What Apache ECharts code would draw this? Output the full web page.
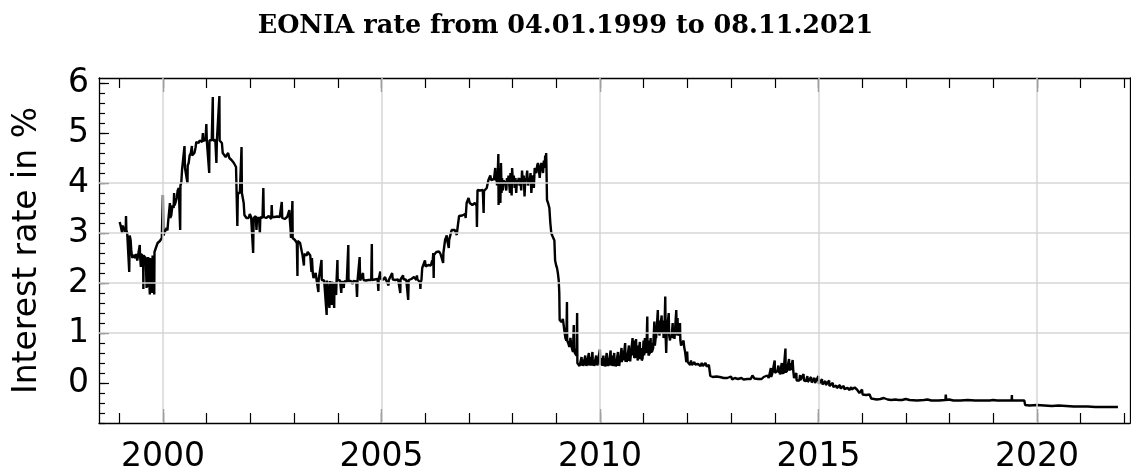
<!DOCTYPE html>
<html>
<head>
<meta charset="utf-8">
<title>EONIA rate</title>
<script src="https://cdn.jsdelivr.net/npm/echarts@6/dist/echarts.min.js"></script>
<style>
  html, body { margin: 0; padding: 0; background: #fff; }
  #chart { width: 1131px; height: 469px; }
</style>
</head>
<body>
<div id="chart"></div>
<script>
// EONIA overnight rate, % per day (sampled, with the notable spikes kept)
const eonia1999to2001 = [
  ['1999-01-04',3.22],['1999-01-11',3.16],['1999-01-18',3.2],['1999-01-25',3.0],['1999-01-27',3.15],
  ['1999-02-05',3.12],['1999-02-12',3.08],['1999-02-19',3.02],['1999-02-24',3.1],['1999-02-26',3.34],
  ['1999-03-01',3.05],['1999-03-08',3.0],['1999-03-16',2.98],['1999-03-23',2.96],['1999-03-25',2.22],
  ['1999-03-29',2.95],['1999-04-06',2.85],['1999-04-12',2.62],['1999-04-20',2.5],['1999-04-28',2.56],
  ['1999-05-07',2.55],['1999-05-14',2.5],['1999-05-21',2.58],['1999-05-31',2.45],['1999-06-08',2.57],
  ['1999-06-16',2.55],['1999-06-21',2.76],['1999-06-23',2.56],['1999-06-30',2.32],['1999-07-02',2.58],
  ['1999-07-12',2.56],['1999-07-19',2.54],['1999-07-21',1.88],['1999-07-23',2.55],['1999-08-02',2.52],
  ['1999-08-10',2.5],['1999-08-17',1.9],['1999-08-19',2.5],['1999-08-27',1.92],['1999-08-30',2.52],
  ['1999-09-07',2.48],['1999-09-13',1.77],['1999-09-15',2.5],['1999-09-23',2.52],['1999-10-04',1.8],
  ['1999-10-06',2.55],['1999-10-14',2.58],['1999-10-20',1.77],['1999-10-22',2.62],['1999-11-01',2.66],
  ['1999-11-08',2.74],['1999-11-17',2.8],['1999-11-26',2.78],['1999-12-06',2.84],['1999-12-14',2.86],
  ['1999-12-22',2.9],['1999-12-31',3.76],
  ['2000-01-04',2.95],['2000-01-12',3.0],['2000-01-20',3.02],['2000-01-31',3.1],['2000-02-07',3.05],
  ['2000-02-14',3.25],['2000-02-22',3.28],['2000-02-28',3.6],['2000-03-01',3.3],['2000-03-10',3.35],
  ['2000-03-20',3.55],['2000-03-30',3.5],['2000-04-03',3.8],['2000-04-05',3.55],['2000-04-14',3.6],
  ['2000-04-25',3.7],['2000-05-03',3.85],['2000-05-12',3.9],['2000-05-19',3.86],['2000-05-24',3.06],
  ['2000-05-26',3.95],['2000-06-02',4.0],['2000-06-09',4.28],['2000-06-16',4.3],['2000-06-23',4.25],
  ['2000-06-29',4.74],['2000-07-03',4.3],['2000-07-12',4.32],['2000-07-19',4.28],['2000-07-24',4.0],
  ['2000-07-26',4.35],['2000-08-03',4.4],['2000-08-11',4.55],['2000-08-21',4.6],['2000-08-30',4.74],
  ['2000-09-01',4.55],['2000-09-11',4.58],['2000-09-20',4.6],['2000-09-29',4.7],['2000-10-06',4.82],
  ['2000-10-16',4.84],['2000-10-25',4.8],['2000-11-03',4.85],['2000-11-14',4.84],['2000-11-24',4.82],
  ['2000-11-30',5.0],['2000-12-04',4.84],['2000-12-13',4.85],['2000-12-22',4.86],['2000-12-29',5.18],
  ['2001-01-02',4.84],['2001-01-12',4.82],['2001-01-22',4.2],['2001-01-24',4.85],['2001-02-02',4.88],
  ['2001-02-12',4.86],['2001-02-21',5.72],['2001-02-23',4.85],['2001-03-05',4.84],['2001-03-14',4.86],
  ['2001-03-23',4.4],['2001-03-27',4.85],['2001-04-04',4.84],['2001-04-11',4.88],['2001-04-17',5.74],
  ['2001-04-19',4.85],['2001-04-27',4.82],['2001-05-08',4.8],['2001-05-15',4.6],['2001-05-23',4.56],
  ['2001-05-31',4.62],['2001-06-08',4.52],['2001-06-18',4.5],['2001-06-29',4.6],['2001-07-09',4.5],
  ['2001-07-18',4.48],['2001-07-27',4.46],['2001-08-07',4.45],['2001-08-16',4.4],['2001-08-24',4.38],
  ['2001-09-03',4.32],['2001-09-12',4.3],['2001-09-14',3.14],['2001-09-18',3.8],['2001-09-27',3.78],
  ['2001-10-05',3.8],['2001-10-15',3.82],['2001-10-19',4.72],['2001-10-22',3.8],['2001-10-31',3.78],
  ['2001-11-06',3.6],['2001-11-12',3.36],['2001-11-20',3.34],['2001-11-29',3.3],['2001-12-07',3.32],
  ['2001-12-17',3.3],['2001-12-27',3.38]
];

const eonia2002to2005 = [
  ['2002-01-07',3.32],['2002-01-16',3.3],['2002-01-24',2.6],['2002-01-28',3.3],['2002-02-05',3.32],
  ['2002-02-14',3.34],['2002-02-21',3.06],['2002-02-25',3.3],['2002-03-06',3.32],['2002-03-14',3.3],
  ['2002-03-21',3.0],['2002-03-25',3.32],['2002-04-03',3.36],['2002-04-12',3.3],['2002-04-19',3.9],
  ['2002-04-23',3.32],['2002-05-02',3.34],['2002-05-13',3.3],['2002-05-23',3.32],['2002-06-03',3.34],
  ['2002-06-13',3.3],['2002-06-24',3.28],['2002-06-28',3.56],['2002-07-02',3.32],['2002-07-12',3.3],
  ['2002-07-23',3.32],['2002-08-02',3.3],['2002-08-13',3.33],['2002-08-23',3.3],['2002-09-03',3.32],
  ['2002-09-12',3.3],['2002-09-20',3.62],['2002-09-24',3.3],['2002-10-04',3.32],['2002-10-15',3.28],
  ['2002-10-24',3.3],['2002-11-04',3.32],['2002-11-13',3.3],['2002-11-22',3.46],['2002-11-26',3.28],
  ['2002-12-02',3.1],['2002-12-06',2.9],['2002-12-13',2.88],['2002-12-18',3.64],['2002-12-20',2.9],
  ['2002-12-30',2.86],
  ['2003-01-08',2.86],['2003-01-17',2.84],['2003-01-24',2.8],['2003-01-29',2.14],['2003-01-31',2.84],
  ['2003-02-10',2.82],['2003-02-20',2.8],['2003-02-28',2.76],['2003-03-07',2.62],['2003-03-13',2.55],
  ['2003-03-24',2.35],['2003-03-26',2.58],['2003-04-04',2.6],['2003-04-15',2.55],['2003-04-25',2.62],
  ['2003-05-06',2.58],['2003-05-16',2.55],['2003-05-26',2.22],['2003-05-30',2.5],['2003-06-06',2.2],
  ['2003-06-12',2.1],['2003-06-23',2.08],['2003-06-30',2.2],['2003-07-08',2.06],['2003-07-18',2.08],
  ['2003-07-23',1.82],['2003-07-25',2.06],['2003-08-08',2.06],['2003-08-18',2.46],['2003-08-20',2.06],
  ['2003-08-29',2.08],['2003-09-09',2.05],['2003-09-19',2.06],['2003-09-30',1.36],['2003-10-02',2.05],
  ['2003-10-13',2.04],['2003-10-23',1.5],['2003-10-27',2.04],['2003-11-05',2.02],['2003-11-10',1.56],
  ['2003-11-13',2.03],['2003-11-24',2.04],['2003-12-02',1.5],['2003-12-04',2.02],['2003-12-12',2.05],
  ['2003-12-18',1.76],['2003-12-22',2.06],['2003-12-29',2.46],['2003-12-31',2.06],
  ['2004-01-09',2.04],['2004-01-20',2.05],['2004-01-30',1.8],['2004-02-03',2.04],['2004-02-13',2.03],
  ['2004-02-20',1.9],['2004-02-24',2.04],['2004-03-05',2.05],['2004-03-16',2.02],['2004-03-29',2.76],
  ['2004-03-31',2.04],['2004-04-09',2.05],['2004-04-20',2.04],['2004-05-04',1.98],['2004-05-10',2.04],
  ['2004-05-20',2.05],['2004-06-04',2.03],['2004-06-10',1.72],['2004-06-14',2.04],['2004-06-24',2.05],
  ['2004-07-02',2.52],['2004-07-06',2.05],['2004-07-16',2.06],['2004-07-30',2.2],['2004-08-03',2.06],
  ['2004-08-13',2.05],['2004-08-24',2.05],['2004-09-03',2.04],['2004-09-14',2.06],['2004-09-24',2.05],
  ['2004-10-07',2.06],['2004-10-12',2.78],['2004-10-14',2.06],['2004-10-25',2.08],['2004-11-05',2.07],
  ['2004-11-16',2.06],['2004-11-29',2.08],['2004-12-06',1.84],['2004-12-08',2.07],['2004-12-17',2.08],
  ['2004-12-22',2.23],['2004-12-27',2.08],
  ['2005-01-07',2.08],['2005-01-18',2.07],['2005-01-31',2.12],['2005-02-08',2.06],['2005-02-18',2.07],
  ['2005-03-01',1.95],['2005-03-03',2.06],['2005-03-11',2.05],['2005-03-31',2.2],['2005-04-05',2.07],
  ['2005-04-15',2.08],['2005-04-27',2.06],['2005-05-09',2.07],['2005-05-20',2.07],['2005-06-03',2.06],
  ['2005-06-07',1.8],['2005-06-09',2.07],['2005-06-20',2.08],['2005-06-30',2.15],['2005-07-04',2.08],
  ['2005-07-15',2.07],['2005-07-27',2.06],['2005-08-05',2.07],['2005-08-12',1.66],['2005-08-16',2.06],
  ['2005-08-26',2.07],['2005-09-07',2.08],['2005-09-19',2.07],['2005-09-30',2.12],['2005-10-06',2.08],
  ['2005-10-19',2.06],['2005-10-24',2.15],['2005-10-28',2.07],['2005-11-08',2.05],['2005-11-18',2.02],
  ['2005-11-22',1.88],['2005-11-24',2.0],['2005-12-01',2.07],['2005-12-07',2.3],['2005-12-16',2.32],
  ['2005-12-30',2.45]
];

const eonia2006to2008 = [
  ['2006-01-05',2.33],['2006-01-16',2.32],['2006-01-27',2.36],['2006-02-07',2.34],['2006-02-17',2.35],
  ['2006-02-28',2.45],['2006-03-03',2.36],['2006-03-09',2.6],['2006-03-13',2.1],['2006-03-15',2.56],
  ['2006-03-24',2.58],['2006-04-04',2.62],['2006-04-14',2.6],['2006-04-27',2.63],['2006-05-09',2.58],
  ['2006-05-19',2.62],['2006-05-31',2.4],['2006-06-02',2.6],['2006-06-09',2.62],['2006-06-16',2.86],
  ['2006-06-26',2.84],['2006-06-30',2.95],['2006-07-05',2.84],['2006-07-17',2.7],['2006-07-20',2.86],
  ['2006-07-28',2.84],['2006-08-10',3.06],['2006-08-22',3.05],['2006-09-05',3.06],['2006-09-15',3.1],
  ['2006-09-22',2.96],['2006-09-26',3.06],['2006-10-05',3.1],['2006-10-11',3.34],['2006-10-24',3.33],
  ['2006-11-06',3.35],['2006-11-17',3.32],['2006-11-30',3.38],['2006-12-05',3.3],['2006-12-13',3.6],
  ['2006-12-22',3.62],['2006-12-29',3.7],
  ['2007-01-08',3.6],['2007-01-19',3.58],['2007-01-30',3.56],['2007-02-08',3.58],['2007-02-19',3.6],
  ['2007-02-28',3.62],['2007-03-06',3.55],['2007-03-09',3.12],['2007-03-12',3.58],['2007-03-14',3.86],
  ['2007-03-23',3.84],['2007-04-04',3.85],['2007-04-16',3.82],['2007-04-27',3.86],['2007-05-04',3.4],
  ['2007-05-07',3.84],['2007-05-18',3.84],['2007-05-30',3.9],['2007-06-06',3.86],['2007-06-13',4.06],
  ['2007-06-25',4.08],['2007-06-29',4.15],['2007-07-05',4.06],['2007-07-17',4.1],['2007-07-30',4.08],
  ['2007-08-06',4.08],['2007-08-09',4.3],['2007-08-13',4.05],['2007-08-20',4.1],['2007-08-24',3.95],
  ['2007-08-30',4.2],['2007-09-04',4.58],['2007-09-06',3.56],['2007-09-10',4.3],['2007-09-13',3.7],
  ['2007-09-18',4.2],['2007-09-21',3.6],['2007-09-26',4.4],['2007-10-01',3.8],['2007-10-05',4.1],
  ['2007-10-11',3.85],['2007-10-17',4.05],['2007-10-26',4.05],['2007-11-02',4.0],['2007-11-09',3.85],
  ['2007-11-15',4.1],['2007-11-22',4.0],['2007-11-28',4.15],['2007-12-03',4.0],['2007-12-10',3.8],
  ['2007-12-14',4.2],['2007-12-19',3.9],['2007-12-24',3.75],['2007-12-28',4.3],
  ['2008-01-04',4.0],['2008-01-11',4.15],['2008-01-18',3.9],['2008-01-25',4.1],['2008-01-31',3.8],
  ['2008-02-07',4.05],['2008-02-14',4.0],['2008-02-21',4.1],['2008-02-28',3.95],['2008-03-06',4.1],
  ['2008-03-13',3.85],['2008-03-20',4.25],['2008-03-27',4.0],['2008-04-03',4.15],['2008-04-10',3.73],
  ['2008-04-17',4.1],['2008-04-24',4.05],['2008-05-02',4.25],['2008-05-09',3.95],['2008-05-16',4.1],
  ['2008-05-23',4.0],['2008-05-30',4.2],['2008-06-06',3.8],['2008-06-13',4.05],['2008-06-20',4.15],
  ['2008-06-27',3.9],['2008-07-04',4.3],['2008-07-10',4.32],['2008-07-18',4.2],['2008-07-25',4.35],
  ['2008-07-31',4.4],['2008-08-07',4.3],['2008-08-15',4.1],['2008-08-22',4.32],['2008-08-29',4.4],
  ['2008-09-05',4.3],['2008-09-12',4.2],['2008-09-19',4.45],['2008-09-26',4.35],['2008-09-30',4.55],
  ['2008-10-03',4.3],['2008-10-08',4.6],['2008-10-10',4.4],['2008-10-15',3.66],['2008-10-24',3.6],
  ['2008-11-04',3.5],['2008-11-12',3.2],['2008-11-20',3.0],['2008-11-28',2.95],['2008-12-08',2.92],
  ['2008-12-16',2.85],['2008-12-22',2.45],['2008-12-31',2.35]
];

const eonia2009to2012 = [
  ['2009-01-07',2.3],['2009-01-14',2.2],['2009-01-21',2.06],['2009-01-26',1.8],['2009-01-29',1.26],
  ['2009-02-06',1.24],['2009-02-16',1.22],['2009-02-25',1.28],['2009-03-06',1.25],['2009-03-12',1.0],
  ['2009-03-18',0.9],['2009-03-26',0.85],['2009-03-31',1.62],['2009-04-02',0.85],['2009-04-10',0.8],
  ['2009-04-20',0.72],['2009-04-29',0.9],['2009-05-06',0.75],['2009-05-13',0.68],['2009-05-20',0.62],
  ['2009-05-27',1.16],['2009-05-29',0.7],['2009-06-05',0.6],['2009-06-12',0.58],['2009-06-19',0.55],
  ['2009-06-24',1.4],['2009-06-26',0.4],['2009-07-03',0.36],['2009-07-14',0.34],['2009-07-24',0.35],
  ['2009-07-31',0.52],['2009-08-04',0.35],['2009-08-11',0.47],['2009-08-13',0.34],['2009-08-24',0.35],
  ['2009-08-31',0.55],['2009-09-02',0.35],['2009-09-08',0.5],['2009-09-10',0.34],['2009-09-21',0.36],
  ['2009-09-30',0.6],['2009-10-02',0.35],['2009-10-13',0.52],['2009-10-15',0.35],['2009-10-23',0.36],
  ['2009-10-30',0.62],['2009-11-03',0.35],['2009-11-10',0.46],['2009-11-12',0.34],['2009-11-23',0.36],
  ['2009-11-30',0.55],['2009-12-02',0.35],['2009-12-08',0.52],['2009-12-10',0.35],['2009-12-21',0.37],
  ['2009-12-31',0.67],
  ['2010-01-04',0.36],['2010-01-19',0.5],['2010-01-21',0.34],['2010-01-29',0.55],['2010-02-02',0.34],
  ['2010-02-09',0.45],['2010-02-11',0.33],['2010-02-22',0.34],['2010-02-26',0.6],['2010-03-02',0.34],
  ['2010-03-09',0.5],['2010-03-11',0.34],['2010-03-22',0.35],['2010-03-31',0.65],['2010-04-02',0.35],
  ['2010-04-12',0.55],['2010-04-14',0.34],['2010-04-23',0.35],['2010-04-30',0.6],['2010-05-04',0.34],
  ['2010-05-11',0.48],['2010-05-13',0.33],['2010-05-24',0.34],['2010-05-31',0.62],['2010-06-02',0.34],
  ['2010-06-08',0.5],['2010-06-10',0.34],['2010-06-21',0.36],['2010-06-30',0.7],['2010-07-02',0.42],
  ['2010-07-09',0.45],['2010-07-13',0.65],['2010-07-15',0.45],['2010-07-23',0.48],['2010-07-30',0.8],
  ['2010-08-03',0.42],['2010-08-10',0.6],['2010-08-12',0.42],['2010-08-23',0.43],['2010-08-31',0.75],
  ['2010-09-02',0.44],['2010-09-08',0.62],['2010-09-10',0.43],['2010-09-20',0.45],['2010-09-30',0.9],
  ['2010-10-04',0.55],['2010-10-12',0.85],['2010-10-14',0.5],['2010-10-22',0.55],['2010-10-29',0.88],
  ['2010-11-02',0.5],['2010-11-09',0.75],['2010-11-11',0.45],['2010-11-22',0.48],['2010-11-30',0.82],
  ['2010-12-02',0.48],['2010-12-14',0.7],['2010-12-16',0.45],['2010-12-23',0.5],['2010-12-31',0.85],
  ['2011-01-05',0.55],['2011-01-11',0.9],['2011-01-13',0.6],['2011-01-24',0.65],['2011-01-31',1.33],
  ['2011-02-02',0.6],['2011-02-08',0.85],['2011-02-10',0.55],['2011-02-21',0.6],['2011-02-28',0.9],
  ['2011-03-02',0.6],['2011-03-08',0.8],['2011-03-10',0.62],['2011-03-21',0.7],['2011-03-31',1.23],
  ['2011-04-04',0.75],['2011-04-13',0.95],['2011-04-15',0.9],['2011-04-26',0.92],['2011-04-29',1.46],
  ['2011-05-03',1.0],['2011-05-10',1.25],['2011-05-12',0.95],['2011-05-23',0.98],['2011-05-31',1.35],
  ['2011-06-02',1.0],['2011-06-14',1.25],['2011-06-16',0.9],['2011-06-23',1.0],['2011-06-30',1.73],
  ['2011-07-04',0.9],['2011-07-08',0.6],['2011-07-12',1.0],['2011-07-22',0.98],['2011-07-29',1.4],
  ['2011-08-02',0.95],['2011-08-09',0.85],['2011-08-11',0.95],['2011-08-22',0.9],['2011-08-31',1.2],
  ['2011-09-02',0.9],['2011-09-13',1.0],['2011-09-15',0.88],['2011-09-23',0.9],['2011-09-30',1.46],
  ['2011-10-04',0.95],['2011-10-11',1.3],['2011-10-13',0.95],['2011-10-24',1.0],['2011-10-31',1.2],
  ['2011-11-03',0.86],['2011-11-09',0.75],['2011-11-15',0.73],['2011-11-25',0.72],['2011-11-30',0.85],
  ['2011-12-05',0.72],['2011-12-13',0.62],['2011-12-21',0.63],['2011-12-23',0.42],['2011-12-30',0.63],
  ['2012-01-03',0.42],['2012-01-13',0.38],['2012-01-24',0.36],['2012-01-31',0.45],['2012-02-08',0.36],
  ['2012-02-20',0.38],['2012-02-29',0.42],['2012-03-05',0.37],['2012-03-16',0.36],['2012-03-30',0.38],
  ['2012-04-10',0.35],['2012-04-20',0.34],['2012-04-30',0.4],['2012-05-10',0.34],['2012-05-22',0.33],
  ['2012-05-31',0.4],['2012-06-11',0.33],['2012-06-22',0.34],['2012-06-29',0.36],['2012-07-06',0.34],
  ['2012-07-11',0.14],['2012-07-20',0.12],['2012-08-01',0.12],['2012-08-15',0.11],['2012-08-31',0.13],
  ['2012-09-14',0.1],['2012-09-28',0.12],['2012-10-12',0.08],['2012-10-31',0.1],['2012-11-15',0.07],
  ['2012-11-30',0.1],['2012-12-14',0.07],['2012-12-31',0.13]
];

const eonia2013to2021 = [
  ['2013-01-10',0.07],['2013-01-31',0.1],['2013-02-15',0.07],['2013-02-28',0.08],['2013-03-15',0.06],
  ['2013-03-28',0.1],['2013-04-15',0.07],['2013-04-30',0.1],['2013-05-15',0.08],['2013-05-31',0.1],
  ['2013-06-14',0.08],['2013-06-28',0.15],['2013-07-15',0.09],['2013-07-31',0.1],['2013-08-15',0.08],
  ['2013-08-30',0.1],['2013-09-13',0.08],['2013-09-30',0.12],['2013-10-15',0.09],['2013-10-31',0.15],
  ['2013-11-11',0.1],['2013-11-20',0.12],['2013-11-29',0.3],['2013-12-02',0.12],['2013-12-10',0.18],
  ['2013-12-16',0.15],['2013-12-20',0.2],['2013-12-31',0.45],
  ['2014-01-03',0.2],['2014-01-10',0.18],['2014-01-17',0.22],['2014-01-24',0.25],['2014-01-31',0.35],
  ['2014-02-04',0.2],['2014-02-11',0.3],['2014-02-13',0.17],['2014-02-21',0.2],['2014-02-28',0.4],
  ['2014-03-04',0.18],['2014-03-11',0.25],['2014-03-13',0.18],['2014-03-21',0.2],['2014-03-31',0.69],
  ['2014-04-02',0.2],['2014-04-08',0.35],['2014-04-10',0.22],['2014-04-18',0.25],['2014-04-30',0.48],
  ['2014-05-02',0.25],['2014-05-09',0.3],['2014-05-13',0.4],['2014-05-15',0.26],['2014-05-23',0.28],
  ['2014-05-30',0.46],['2014-06-04',0.25],['2014-06-11',0.1],['2014-06-18',0.09],['2014-06-30',0.2],
  ['2014-07-02',0.05],['2014-07-11',0.08],['2014-07-25',0.05],['2014-07-31',0.16],['2014-08-04',0.06],
  ['2014-08-15',0.07],['2014-08-29',0.18],['2014-09-02',0.05],['2014-09-10',0.03],['2014-09-19',0.04],
  ['2014-09-30',0.14],['2014-10-03',0.02],['2014-10-17',0.03],['2014-10-31',0.12],['2014-11-04',0.01],
  ['2014-11-17',0.0],['2014-11-28',0.1],['2014-12-03',0.0],['2014-12-15',0.02],['2014-12-31',0.14],
  ['2015-01-05',-0.02],['2015-01-20',-0.03],['2015-01-30',0.08],['2015-02-03',-0.03],['2015-02-16',-0.04],
  ['2015-02-27',0.04],['2015-03-04',-0.04],['2015-03-16',-0.05],['2015-03-31',0.05],['2015-04-02',-0.06],
  ['2015-04-15',-0.07],['2015-04-30',0.0],['2015-05-05',-0.08],['2015-05-20',-0.1],['2015-05-29',-0.05],
  ['2015-06-03',-0.1],['2015-06-16',-0.11],['2015-06-30',-0.04],['2015-07-03',-0.11],['2015-07-17',-0.12],
  ['2015-07-31',-0.06],['2015-08-04',-0.12],['2015-08-18',-0.12],['2015-08-31',-0.1],['2015-09-04',-0.13],
  ['2015-09-18',-0.14],['2015-09-30',-0.08],['2015-10-05',-0.13],['2015-10-19',-0.13],['2015-10-30',-0.09],
  ['2015-11-04',-0.13],['2015-11-18',-0.13],['2015-11-30',-0.1],['2015-12-04',-0.14],['2015-12-09',-0.2],
  ['2015-12-18',-0.21],['2015-12-31',-0.13],
  ['2016-01-04',-0.23],['2016-01-20',-0.24],['2016-02-02',-0.24],['2016-02-17',-0.24],['2016-03-03',-0.23],
  ['2016-03-16',-0.31],['2016-04-01',-0.32],['2016-05-02',-0.33],['2016-06-01',-0.32],['2016-06-30',-0.3],
  ['2016-07-04',-0.33],['2016-08-01',-0.33],['2016-09-01',-0.34],['2016-10-03',-0.33],['2016-11-01',-0.34],
  ['2016-12-01',-0.34],['2016-12-30',-0.32],
  ['2017-02-01',-0.34],['2017-04-03',-0.35],['2017-06-01',-0.34],['2017-06-30',-0.33],['2017-08-01',-0.35],
  ['2017-10-02',-0.35],['2017-11-27',-0.34],['2017-11-30',-0.23],['2017-12-04',-0.34],['2017-12-29',-0.33],
  ['2018-02-01',-0.35],['2018-04-03',-0.35],['2018-06-01',-0.34],['2018-08-01',-0.35],['2018-10-01',-0.35],
  ['2018-12-03',-0.35],['2018-12-31',-0.34],
  ['2019-02-01',-0.35],['2019-04-01',-0.35],['2019-06-03',-0.35],['2019-06-05',-0.24],['2019-06-07',-0.35],
  ['2019-08-01',-0.35],['2019-09-17',-0.35],['2019-09-24',-0.44],['2019-11-01',-0.45],['2019-12-31',-0.44],
  ['2020-03-02',-0.45],['2020-05-04',-0.46],['2020-07-01',-0.45],['2020-09-01',-0.46],['2020-11-02',-0.47],
  ['2020-12-31',-0.47],
  ['2021-03-01',-0.47],['2021-05-03',-0.48],['2021-07-01',-0.48],['2021-09-01',-0.48],['2021-11-08',-0.48]
];

// axis ticks and labels
const yearLabels = [2000, 2005, 2010, 2015, 2020];
const yearTicks = [];
for (let y = 1999; y <= 2022; y++) yearTicks.push(y);
const rateLabels = [0, 1, 2, 3, 4, 5, 6];
const rateMinorTicks = [];
for (let i = -4; i <= 30; i++) rateMinorTicks.push(+(i * 0.2).toFixed(1));
const gridRates = [1, 2, 3, 4];

const X_MIN = 1998.5355, X_MAX = 2022.128;
const Y_MIN = -0.8, Y_MAX = 6.1;

// date string -> fractional year
function toYear(s) {
  const [y, m, d] = s.split('-').map(Number);
  const t = Date.UTC(y, m - 1, d), a = Date.UTC(y, 0, 1), b = Date.UTC(y + 1, 0, 1);
  return y + (t - a) / (b - a);
}

const series = [].concat(eonia1999to2001, eonia2002to2005, eonia2006to2008, eonia2009to2012, eonia2013to2021)
  .map(([d, v]) => [toYear(d), v]);

const FONT = 'DejaVu Sans';
const frame = { show: true, onZero: false, lineStyle: { color: '#000', width: 1.3 } };
const noLine = { show: false, onZero: false };

function xAxis(position, ticks, len, labels) {
  return {
    type: 'value', position, min: X_MIN, max: X_MAX,
    axisLine: ticks === yearTicks ? frame : noLine,
    axisTick: { show: true, inside: true, length: len, customValues: ticks, lineStyle: { color: '#000', width: 1.2 } },
    axisLabel: labels ? {
      show: true, customValues: labels, formatter: v => String(v),
      fontFamily: FONT, fontSize: 33, color: '#000', margin: 18
    } : { show: false },
    splitLine: { show: false }
  };
}

function yAxis(position, ticks, len, withLabels) {
  const ax = {
    type: 'value', position, min: Y_MIN, max: Y_MAX,
    axisLine: withLabels || position === 'right' ? frame : noLine,
    axisTick: { show: true, inside: position !== 'right', length: len, customValues: ticks, lineStyle: { color: '#000', width: 1.2 } },
    axisLabel: withLabels ? {
      show: true, customValues: rateLabels, formatter: v => String(v),
      fontFamily: FONT, fontSize: 33, color: '#000', margin: 10
    } : { show: false },
    splitLine: { show: false }
  };
  if (withLabels) {
    Object.assign(ax, {
      name: 'Interest rate in %', nameLocation: 'middle', nameGap: 55,
      nameTextStyle: { fontFamily: FONT, fontSize: 33, color: '#000' }
    });
  }
  return ax;
}

const chart = echarts.init(document.getElementById('chart'), null, { renderer: 'canvas' });
chart.setOption({
  animation: false,
  backgroundColor: '#fff',
  title: {
    text: 'EONIA rate from 04.01.1999 to 08.11.2021',
    left: 'center', top: 8,
    textStyle: { fontFamily: 'DejaVu Serif', fontWeight: 'bold', fontSize: 25.5, color: '#000' }
  },
  grid: { left: 99, right: 1, top: 78, bottom: 46, outerBoundsMode: 'none' },
  xAxis: [
    xAxis('bottom', yearTicks, 10, yearLabels),
    xAxis('bottom', yearLabels, 14, null),
    xAxis('top', yearTicks, 10, null),
    xAxis('top', yearLabels, 14, null)
  ],
  yAxis: [
    yAxis('left', rateMinorTicks, 6, true),
    yAxis('left', rateLabels, 10, false),
    yAxis('right', rateLabels, 3, false)
  ],
  series: [
    {
      // light grid lines behind the rate curve
      type: 'line', data: [], z: 1, silent: true,
      markLine: {
        silent: true, symbol: ['none', 'none'], label: { show: false },
        lineStyle: { color: '#d6d6d6', width: 1.5, type: 'solid' },
        data: yearLabels.map(v => ({ xAxis: v })).concat(gridRates.map(v => ({ yAxis: v })))
      }
    },
    {
      type: 'line', data: series, z: 3,
      showSymbol: false, symbol: 'none',
      lineStyle: { color: '#000', width: 2.4 }
    }
  ]
});
</script>
</body>
</html>
